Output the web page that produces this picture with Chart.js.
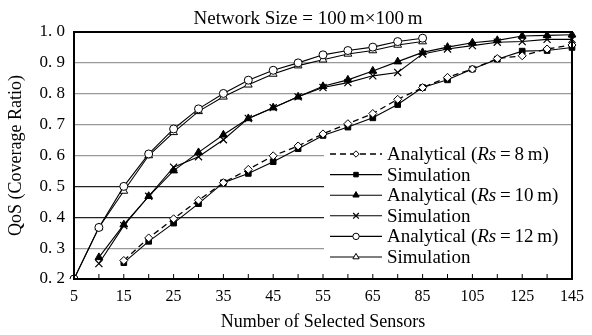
<!DOCTYPE html>
<html>
<head>
<meta charset="utf-8">
<script src="https://cdn.jsdelivr.net/npm/chart.js@4.4.1/dist/chart.umd.min.js"></script>
<style>
  html, body { margin: 0; padding: 0; background: #fff; }
  #wrap { width: 592px; height: 335px; }
</style>
</head>
<body>
<div id="wrap"><canvas id="qosChart"></canvas></div>
<script>
// number of selected sensors (x categories, uneven steps after 65)
const sensors = [5, 10, 15, 20, 25, 30, 35, 40, 45, 50, 55, 60, 65, 75, 85, 95, 105, 115, 125, 135, 145];
const yTicks = [0.2, 0.3, 0.4, 0.5, 0.6, 0.7, 0.8, 0.9, 1.0];

// coverage ratio
const anaRs8  = [null, null, 0.26, 0.333, 0.395, 0.455, 0.512, 0.555, 0.599, 0.631, 0.67, 0.703, 0.736, 0.782, 0.82, 0.853, 0.88, 0.914, 0.923, 0.945, 0.958];
const simRs8  = [null, null, 0.253, 0.322, 0.381, 0.444, 0.512, 0.542, 0.58, 0.622, 0.665, 0.692, 0.722, 0.765, 0.82, 0.845, 0.88, 0.912, 0.938, 0.94, 0.95];
const anaRs10 = [null, 0.27, 0.376, 0.468, 0.551, 0.61, 0.667, 0.72, 0.755, 0.79, 0.824, 0.845, 0.874, 0.904, 0.934, 0.951, 0.965, 0.973, 0.987, 0.989, 0.991];
const simRs10 = [null, 0.25, 0.373, 0.468, 0.562, 0.596, 0.651, 0.72, 0.755, 0.79, 0.82, 0.836, 0.858, 0.869, 0.929, 0.945, 0.956, 0.967, 0.969, 0.976, 0.976];
const anaRs12 = [0.2, 0.367, 0.5, 0.605, 0.686, 0.751, 0.801, 0.844, 0.876, 0.9, 0.926, 0.94, 0.951, 0.969, 0.98];
const simRs12 = [0.2, 0.367, 0.485, 0.6, 0.675, 0.743, 0.79, 0.829, 0.864, 0.891, 0.91, 0.929, 0.94, 0.958, 0.969];

const titleText = 'Network Size = 100\u2009m\u00d7100\u2009m';
const serif = "'Liberation Serif', 'DejaVu Serif', serif";

const series = (label, rs, data, style) => Object.assign({
    label: label,
    rs: rs,
    data: data,
    borderColor: '#000',
    borderWidth: 1.1,
    pointBorderColor: '#000',
    pointBorderWidth: 1,
    pointRadius: 4,
    tension: 0,
    fill: false
}, style);

const datasets = [
    series('Analytical', '8', anaRs8, { pointStyle: 'rectRot', pointBackgroundColor: '#fff', borderDash: [6, 4], borderWidth: 1.3 }),
    series('Simulation', null, simRs8, { pointStyle: 'rect', pointBackgroundColor: '#000', pointRadius: 4 }),
    series('Analytical', '10', anaRs10, { pointStyle: 'triangle', pointBackgroundColor: '#000', pointRadius: 4.5 }),
    series('Simulation', null, simRs10, { pointStyle: 'crossRot', pointBackgroundColor: '#000', pointRadius: 5, pointBorderWidth: 1.2 }),
    series('Analytical', '12', anaRs12, { pointStyle: 'circle', pointBackgroundColor: '#fff' }),
    series('Simulation', null, simRs12, { pointStyle: 'triangle', pointBackgroundColor: '#fff', pointRadius: 4.5 })
];

// frame, inward x ticks, title and the in-plot legend
const framePlugin = {
    id: 'frame',
    afterDatasetsDraw(chart) {
        const { ctx, chartArea: a } = chart;
        const xs = chart.scales.x;
        ctx.save();
        ctx.strokeStyle = '#000';
        ctx.lineWidth = 1;
        for (let i = 0; i < sensors.length; i++) {
            const x = xs.getPixelForTick(i);
            ctx.beginPath();
            ctx.moveTo(x, a.bottom);
            ctx.lineTo(x, a.bottom - 5);
            ctx.stroke();
        }

        // title, a little left of the plot centre as in the figure
        ctx.fillStyle = '#000';
        ctx.font = '19px ' + serif;
        ctx.textAlign = 'center';
        ctx.textBaseline = 'alphabetic';
        ctx.fillText(titleText, (a.left + a.right) / 2 - 15, a.top - 8);
        ctx.textAlign = 'left';

        // legend box
        const lx = a.right - 248, ly = a.bottom - 135;
        ctx.fillStyle = '#fff';
        ctx.fillRect(lx, ly, 247, 124);
        chart.data.datasets.forEach((ds, i) => {
            const y = ly + 10 + i * 20.6;
            ctx.strokeStyle = '#000';
            ctx.lineWidth = ds.borderWidth;
            ctx.setLineDash(ds.borderDash || []);
            ctx.beginPath();
            ctx.moveTo(lx + 6, y);
            ctx.lineTo(lx + 58, y);
            ctx.stroke();
            ctx.setLineDash([]);
            ctx.fillStyle = ds.pointBackgroundColor;
            ctx.lineWidth = ds.pointBorderWidth;
            Chart.helpers.drawPoint(ctx, {
                pointStyle: ds.pointStyle,
                radius: ds.pointRadius * 0.8,
                rotation: 0,
                borderWidth: ds.pointBorderWidth
            }, lx + 32, y);

            ctx.fillStyle = '#000';
            ctx.textBaseline = 'middle';
            let tx = lx + 63;
            const parts = ds.rs
                ? [[ds.label + ' (', ''], ['Rs', 'italic '], ['\u2009=\u2009' + ds.rs + '\u2009m)', '']]
                : [[ds.label, '']];
            parts.forEach(([t, style]) => {
                ctx.font = style + '19px ' + serif;
                ctx.fillText(t, tx, y + 1);
                tx += ctx.measureText(t).width;
            });
        });

        ctx.lineWidth = 2;
        ctx.strokeRect(a.left, a.top, a.right - a.left, a.bottom - a.top);
        ctx.restore();
    }
};

new Chart(document.getElementById('qosChart'), {
    type: 'line',
    data: { labels: sensors, datasets: datasets },
    options: {
        responsive: true,
        maintainAspectRatio: false,
        animation: false,
        layout: { padding: { top: 32, right: 14, bottom: 0, left: 0 } },
        plugins: {
            legend: { display: false },
            tooltip: { enabled: false },
            title: { display: false }
        },
        scales: {
            x: {
                type: 'category',
                offset: false,
                grid: { display: false, drawTicks: false },
                border: { display: false },
                ticks: {
                    autoSkip: false,
                    maxRotation: 0,
                    padding: 8,
                    color: '#000',
                    font: { family: serif, size: 16 },
                    callback: (v, i) => (i % 2 === 0 ? sensors[i] : '')
                },
                title: {
                    display: true,
                    text: 'Number of Selected Sensors',
                    color: '#000',
                    font: { family: serif, size: 18 },
                    padding: { top: 0, bottom: 2 }
                },
                afterFit: (s) => { s.height = 56; }
            },
            y: {
                min: yTicks[0],
                max: yTicks[yTicks.length - 1],
                border: { display: false },
                grid: {
                    drawTicks: false,
                    lineWidth: 1.2,
                    color: (c) => ([4, 5].includes(Math.round(c.tick.value * 10)) ? '#222' : '#999')
                },
                afterBuildTicks: (s) => { s.ticks = yTicks.map(v => ({ value: v })); },
                ticks: {
                    padding: 9,
                    color: '#000',
                    font: { family: serif, size: 17 },
                    callback: (v) => v.toFixed(1).replace('.', '. ')
                },
                title: {
                    display: true,
                    text: 'QoS (Coverage Ratio)',
                    color: '#000',
                    font: { family: serif, size: 18 },
                    padding: { top: 5, bottom: 0 }
                },
                afterFit: (s) => { s.width = 74; }
            }
        }
    },
    plugins: [framePlugin]
});
</script>
</body>
</html>
